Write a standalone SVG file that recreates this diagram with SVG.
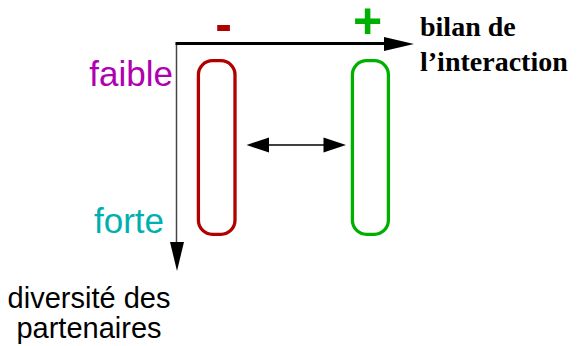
<svg xmlns="http://www.w3.org/2000/svg" width="577" height="346" viewBox="0 0 577 346">
<style>
.sans{font-family:"Liberation Sans",Arial,sans-serif}
.serifb{font-family:"Liberation Serif","Times New Roman",serif;font-weight:bold;font-size:28px;fill:#000}
.box{fill:none;stroke-width:3.3}
</style>
<rect width="577" height="346" fill="#fff"/>
<g id="connectors">
<line x1="176.5" y1="43" x2="176.5" y2="244" stroke="#444" stroke-width="1.5"/>
<polygon points="170,242 184,242 177,271" fill="#000"/>
<line x1="175.5" y1="43.5" x2="388" y2="43.5" stroke="#000" stroke-width="3"/>
<polygon points="384,37 384,51 414,44" fill="#000"/>
<line x1="266" y1="145" x2="328" y2="145" stroke="#000" stroke-width="1.6"/>
<polygon points="246.5,145 269,137.5 269,152.5" fill="#000"/>
<polygon points="346,145 323.5,137.5 323.5,152.5" fill="#000"/>
</g>
<g id="node-negative">
<rect class="box" x="198.4" y="60.7" width="36.6" height="173.6" rx="14" stroke="#b00000"/>
<text class="sans" x="223.5" y="41" font-size="50" font-weight="bold" fill="#b00000" text-anchor="middle">-</text>
</g>
<g id="node-positive">
<rect class="box" x="352.4" y="60.7" width="36" height="173.6" rx="14" stroke="#00b000"/>
<text class="sans" x="367.5" y="38" font-size="50" font-weight="bold" fill="#00b000" text-anchor="middle">+</text>
</g>
<g id="labels">
<text class="sans" x="173" y="86" font-size="35" fill="#b000b0" text-anchor="end">faible</text>
<text class="sans" x="164" y="233" font-size="35" fill="#00b0b0" text-anchor="end">forte</text>
<text class="sans" x="89" y="308" font-size="29" fill="#000" text-anchor="middle">diversité des</text>
<text class="sans" x="89" y="338" font-size="29" fill="#000" text-anchor="middle">partenaires</text>
<text class="serifb" x="420" y="36">bilan de</text>
<text class="serifb" x="420" y="71">l’interaction</text>
</g>
</svg>
